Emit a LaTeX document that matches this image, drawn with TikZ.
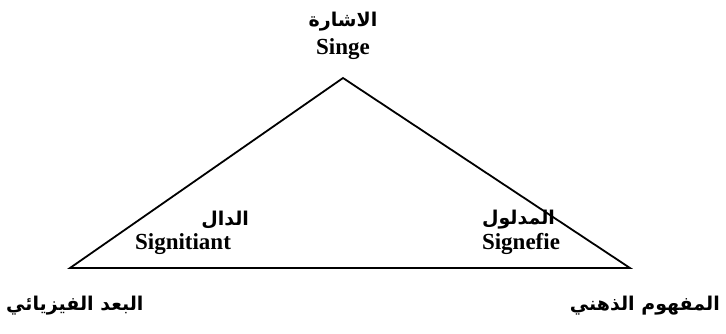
\documentclass[tikz,border=0pt]{standalone}
\usepackage{fontspec}
\setmainfont{Liberation Serif}
\newfontfamily\arabicfont[Script=Arabic]{DejaVu Sans}
\TeXXeTstate=1
\usetikzlibrary{positioning}

\begin{document}
\begin{tikzpicture}[x=1pt, y=-1pt,
    latin/.style={font=\bfseries\fontsize{23}{26}\selectfont, inner sep=1pt},
    arab/.style={font=\arabicfont\bfseries\fontsize{19}{22}\selectfont, inner sep=1pt}]
    \useasboundingbox (0,0) rectangle (726,333);
    % Triangle: sign, signifier, signified
    \coordinate (apex) at (343,78);
    \coordinate (left) at (70,268);
    \coordinate (right) at (630,268);
    \draw[line width=1.8pt] (apex) -- (left) -- (right) -- cycle;
    % Top labels
    \node[latin, above=17pt of apex] (singe) {Singe};
    \node[arab, above=5pt of singe] (ishara) {\beginR الاشارة\endR};
    % Inner labels
    \node[latin] (signifiant) at (183,244) {Signitiant};
    \node[arab, above=2pt of signifiant.north east, anchor=south east, xshift=18pt] (dal) {\beginR الدال\endR};
    \node[latin] (signifie) at (521,244) {Signefie};
    \node[arab, above=2pt of signifie.north west, anchor=south west] (madlul) {\beginR المدلول\endR};
    % Outer labels
    \node[arab, anchor=west] (physical) at (5,306) {\beginR البعد الفيزيائي\endR};
    \node[arab, anchor=east] (mental) at (721,306) {\beginR المفهوم الذهني\endR};
\end{tikzpicture}
\end{document}
